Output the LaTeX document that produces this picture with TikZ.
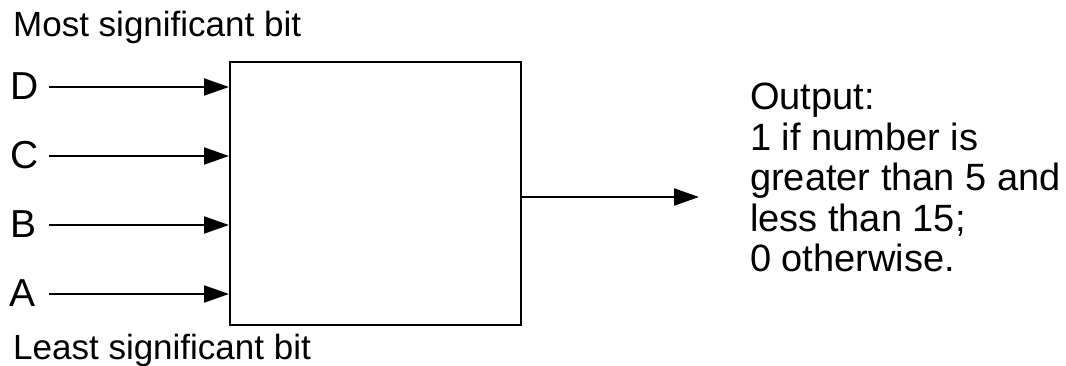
\documentclass[tikz,border=0pt]{standalone}
\usepackage{fontspec}
\setmainfont{Liberation Sans}
\usetikzlibrary{arrows.meta}
\begin{document}
\begin{tikzpicture}[x=1pt,y=-1pt,
  lbl/.style={font=\fontsize{35}{38.5}\selectfont, inner sep=0pt},
  letter/.style={font=\fontsize{39}{40}\selectfont, inner sep=0pt, anchor=west},
  outlbl/.style={font=\fontsize{38}{40.5}\selectfont, inner sep=0pt, align=left},
  conn/.style={line width=2pt, -{Triangle[length=25pt,width=17pt]}},
  box/.style={draw, line width=2pt, minimum width=291pt, minimum height=263pt, inner sep=0pt, anchor=north west}]
\useasboundingbox (0,0) rectangle (1066,366);
\node[box] (blk) at (229,61) {};
\node[lbl, anchor=base west] (msb) at (13,37) {Most significant bit};
\node[lbl, anchor=base west] (lsb) at (13,359) {Least significant bit};
\node[letter] (D) at (10,86) {D};
\node[letter] (C) at (10,155) {C};
\node[letter] (B) at (10,224) {B};
\node[letter] (A) at (9,293) {A};
\coordinate (d0) at (49,87);
\coordinate (c0) at (49,156);
\coordinate (b0) at (49,225);
\coordinate (a0) at (49,294);
\draw[conn] (d0) -- (d0 -| blk.west);
\draw[conn] (c0) -- (c0 -| blk.west);
\draw[conn] (b0) -- (b0 -| blk.west);
\draw[conn] (a0) -- (a0 -| blk.west);
\coordinate (oend) at (699,197);
\draw[conn] (oend -| blk.east) -- (oend);
\node[outlbl, anchor=north west] (out) at (750,83) {Output:\\1 if number is\\greater than 5 and\\less than 15;\\0 otherwise.};
\end{tikzpicture}
\end{document}
